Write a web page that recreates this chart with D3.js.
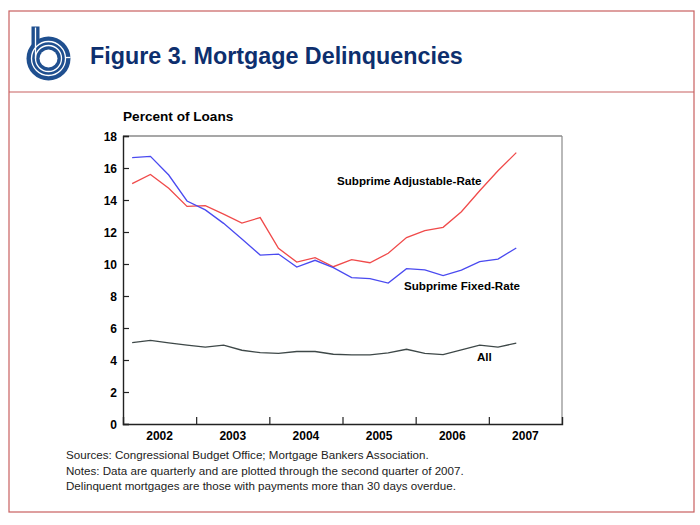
<!DOCTYPE html>
<html><head><meta charset="utf-8">
<script src="https://cdn.jsdelivr.net/npm/d3@7/dist/d3.min.js"></script>
<style>body{margin:0;background:#fff;}svg{display:block;}</style>
</head><body>
<script>
const years = ["2002","2003","2004","2005","2006","2007"];
const quarters = ["2002Q1","2002Q2","2002Q3","2002Q4","2003Q1","2003Q2","2003Q3","2003Q4","2004Q1","2004Q2","2004Q3","2004Q4","2005Q1","2005Q2","2005Q3","2005Q4","2006Q1","2006Q2","2006Q3","2006Q4","2007Q1","2007Q2"];
const adjustable = [15.02,15.6,14.73,13.6, 13.65,13.12,12.56,12.9, 10.98,10.12,10.4,9.83, 10.27,10.08,10.67,11.65, 12.08,12.29,13.27,14.58, 15.83,16.96];
const fixed = [16.65,16.73,15.56,13.94, 13.38,12.54,11.56,10.56, 10.62,9.81,10.23,9.77, 9.15,9.08,8.81,9.71, 9.63,9.27,9.62,10.15, 10.31,11.0];
const all = [5.09,5.23,5.07,4.93, 4.81,4.93,4.61,4.46, 4.42,4.53,4.53,4.36, 4.32,4.32,4.44,4.67, 4.42,4.34,4.63,4.93, 4.81,5.05];
const yTicks = [0,2,4,6,8,10,12,14,16,18];

const W=700,H=525;
const svg=d3.select("body").append("svg").attr("width",W).attr("height",H);
const F="'Liberation Sans', Arial, sans-serif";

// outer frame
svg.append("rect").attr("x",9).attr("y",11).attr("width",685).attr("height",501)
  .attr("fill","none").attr("stroke","#c86060").attr("stroke-width",1.2);
svg.append("line").attr("x1",9).attr("x2",694).attr("y1",92).attr("y2",92)
  .attr("stroke","#c86060").attr("stroke-width",1.2);

// logo
const lg=svg.append("g").attr("transform","translate(48.5,58.5)");
lg.append("rect").attr("x",-17).attr("y",-32).attr("width",8).attr("height",30).attr("fill","#1f4f8f");
lg.append("circle").attr("r",22).attr("fill","#1f4f8f");
lg.append("circle").attr("r",17).attr("fill","none").attr("stroke","#fff").attr("stroke-width",1.3);
lg.append("circle").attr("r",13).attr("fill","none").attr("stroke","#fff").attr("stroke-width",1.3);
lg.append("circle").attr("r",9).attr("fill","#fff");
lg.append("line").attr("x1",-13).attr("x2",-13).attr("y1",-31).attr("y2",0).attr("stroke","#fff").attr("stroke-width",1.3);
lg.append("line").attr("x1",17).attr("x2",22).attr("y1",-1).attr("y2",-1).attr("stroke","#fff").attr("stroke-width",1.3);

svg.append("text").attr("x",90).attr("y",64).attr("font-family",F).attr("font-weight","bold")
  .attr("font-size",23.3).attr("fill","#0d2f6e").text("Figure 3. Mortgage Delinquencies");

// plot
const L=123,R=562,T=136,B=424;
const x=d3.scaleLinear().domain([2002,2008]).range([L,R]);
const y=d3.scaleLinear().domain([0,18]).range([B,T]);
const qx=i=>x(2002+(i+0.5)/4);

svg.append("line").attr("x1",L).attr("x2",R).attr("y1",T).attr("y2",T).attr("stroke","#8a8a8a").attr("stroke-width",1.6);
svg.append("line").attr("x1",R).attr("x2",R).attr("y1",T).attr("y2",B).attr("stroke","#8a8a8a").attr("stroke-width",1.2);

const yAxis=svg.append("g").attr("transform",`translate(${L},0)`)
  .call(d3.axisRight(y).tickValues(yTicks).tickSize(6).tickFormat(""));
yAxis.select(".domain").attr("stroke","#222").attr("stroke-width",1.4);
yAxis.selectAll(".tick line").attr("stroke","#222").attr("stroke-width",1.2);
svg.append("g").selectAll("text").data(yTicks).join("text")
  .attr("x",L-6).attr("y",d=>y(d)+4.5).attr("text-anchor","end")
  .attr("font-family",F).attr("font-weight","bold").attr("font-size",12).attr("fill","#000").text(d=>d);

const xAxis=svg.append("g").attr("transform",`translate(0,${B})`)
  .call(d3.axisTop(x).tickValues([2003,2004,2005,2006,2007]).tickSize(7).tickFormat(""));
xAxis.select(".domain").attr("stroke","#222").attr("stroke-width",1.4);
xAxis.selectAll(".tick line").attr("stroke","#222").attr("stroke-width",1.2);
svg.append("g").selectAll("text").data(years).join("text")
  .attr("x",d=>x(+d+0.5)).attr("y",B+16).attr("text-anchor","middle")
  .attr("font-family",F).attr("font-weight","bold").attr("font-size",12).attr("fill","#000").text(d=>d);

svg.append("text").attr("x",123).attr("y",121).attr("font-family",F).attr("font-weight","bold")
  .attr("font-size",13.6).attr("fill","#000").text("Percent of Loans");

const line=d3.line().x((d,i)=>qx(i)).y(d=>y(d));
[[adjustable,"#f04a4a"],[fixed,"#4a4af0"],[all,"#3e4848"]].forEach(([d,c])=>{
  svg.append("path").datum(d).attr("d",line).attr("fill","none").attr("stroke",c).attr("stroke-width",1.3);
});

const lab=(t,xx,yy)=>svg.append("text").attr("x",xx).attr("y",yy).attr("font-family",F)
  .attr("font-weight","bold").attr("font-size",11.6).attr("fill","#000").text(t);
lab("Subprime Adjustable-Rate",337,185);
lab("Subprime Fixed-Rate",404,290);
lab("All",477,361);

const notes=["Sources: Congressional Budget Office; Mortgage Bankers Association.",
 "Notes: Data are quarterly and are plotted through the second quarter of 2007.",
 "Delinquent mortgages are those with payments more than 30 days overdue."];
notes.forEach((t,i)=>svg.append("text").attr("x",66).attr("y",459+i*15.5).attr("font-family",F)
  .attr("font-size",11.6).attr("fill","#222").text(t));
</script>
</body></html>
